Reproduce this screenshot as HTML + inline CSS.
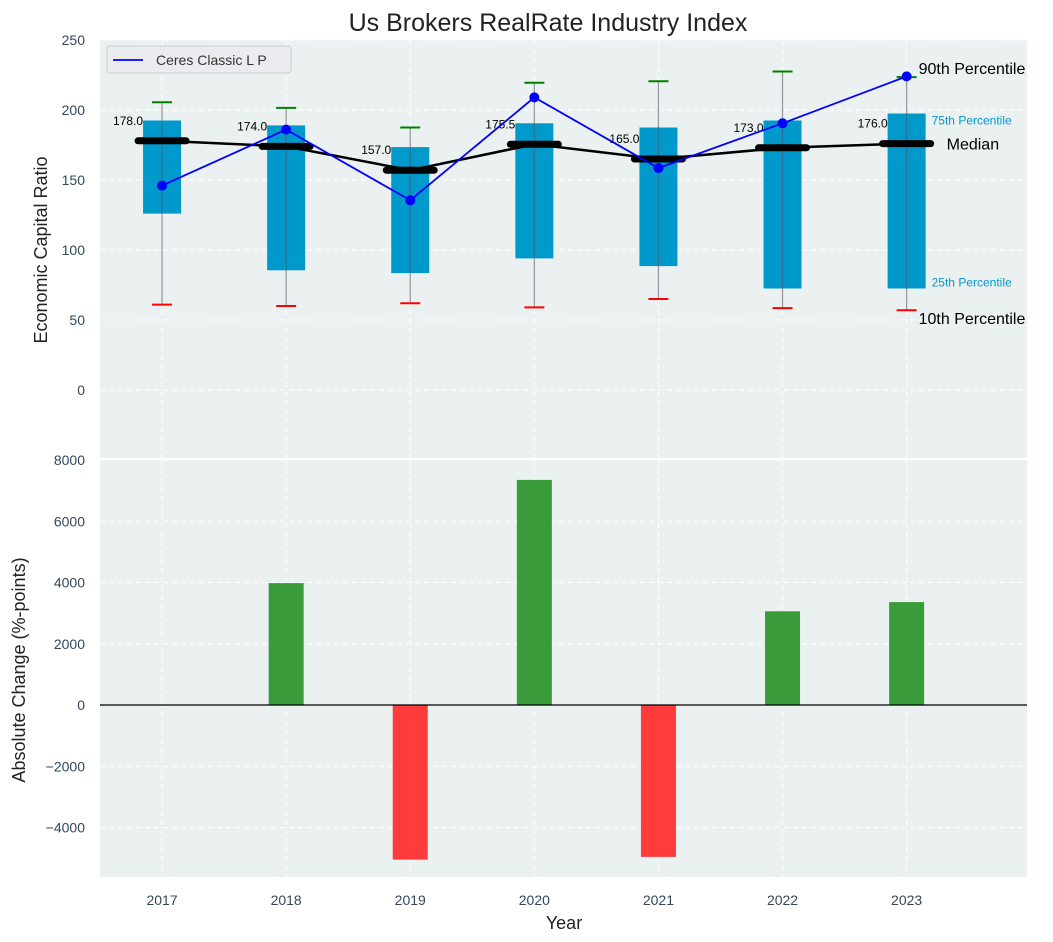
<!DOCTYPE html>
<html><head><meta charset="utf-8"><style>
body{margin:0;background:#fff;}
svg{display:block;font-family:"Liberation Sans","DejaVu Sans",sans-serif;}
</style></head><body>
<svg id="chart" width="1053" height="942" viewBox="0 0 1053 942" xmlns="http://www.w3.org/2000/svg"></svg>
<script>
const years=[2017,2018,2019,2020,2021,2022,2023];
const p10=[61,60,62,59,65,58.5,57];
const p25=[126,85.5,83.5,94,88.5,72.5,72.5];
const median=[178,174,157,175.5,165,173,176];
const p75=[192.5,189,173.5,190.5,187.5,192.5,197.5];
const p90=[205.5,201.5,187.5,219.5,220.5,227.5,223.5];
const company=[146,186,135.5,209,158.5,190.5,224];
const changes=[0,3980,-5050,7350,-4960,3060,3360];
const topTicks=[0,50,100,150,200,250];
const botTicks=[-4000,-2000,0,2000,4000,6000,8000];

const svg=document.getElementById('chart');
const NS='http://www.w3.org/2000/svg';
function el(tag,attrs,parent,text){const e=document.createElementNS(NS,tag);for(const k in attrs)e.setAttribute(k,attrs[k]);if(text!==undefined)e.textContent=text;(parent||svg).appendChild(e);return e;}
const X0=100,X1=1027;
const x=v=>X0+(v-2016.5)/(2023.97-2016.5)*(X1-X0);
const yT=v=>390-v*1.4;
const yB=v=>705-v*0.030625;

let b=el('rect',{x:X0,y:40,width:X1-X0,height:418,fill:'#ebf0f0'});

b=el('rect',{x:X0,y:460,width:X1-X0,height:417,fill:'#ebf0f0'});


years.forEach(yr=>{
  el('line',{x1:x(yr),x2:x(yr),y1:40,y2:458,stroke:'#fff','stroke-dasharray':'5,4','stroke-width':1});
  el('line',{x1:x(yr),x2:x(yr),y1:460,y2:877,stroke:'#fff','stroke-dasharray':'5,4','stroke-width':1});
});
topTicks.forEach(t=>{
  el('line',{x1:X0,x2:X1,y1:yT(t),y2:yT(t),stroke:'#fff','stroke-dasharray':'5,4'});
  const tx=el('text',{x:85,y:yT(t)+5,'text-anchor':'end','font-size':14,fill:'#33475b'},svg,String(t));
  
});
botTicks.forEach(t=>{
  el('line',{x1:X0,x2:X1,y1:yB(t),y2:yB(t),stroke:'#fff','stroke-dasharray':'5,4'});
  const tx=el('text',{x:85,y:yB(t)+5,'text-anchor':'end','font-size':14,fill:'#33475b'},svg,String(t).replace('-','\u2212'));
  
});
years.forEach(yr=>{
  const tx=el('text',{x:x(yr),y:905,'text-anchor':'middle','font-size':14,fill:'#33475b'},svg,String(yr));
  
});

const bw=38;
years.forEach((yr,i)=>{
  const cx=x(yr);
  const r=el('rect',{x:cx-bw/2,y:yT(p75[i]),width:bw,height:yT(p25[i])-yT(p75[i]),fill:'#0099cc'});
  
  el('line',{x1:cx,x2:cx,y1:yT(p10[i]),y2:yT(p90[i]),stroke:'#556',opacity:0.6,'stroke-width':1.2});
  el('line',{x1:cx-10,x2:cx+10,y1:yT(p90[i]),y2:yT(p90[i]),stroke:'green','stroke-width':2});
  el('line',{x1:cx-10,x2:cx+10,y1:yT(p10[i]),y2:yT(p10[i]),stroke:'red','stroke-width':2});
});
let pts=years.map((yr,i)=>x(yr)+','+yT(median[i])).join(' ');
let pl=el('polyline',{points:pts,fill:'none',stroke:'#000','stroke-width':2.5});

years.forEach((yr,i)=>{
  const cx=x(yr);
  const m=el('line',{x1:cx-24,x2:cx+24,y1:yT(median[i]),y2:yT(median[i]),stroke:'#000','stroke-width':7,'stroke-linecap':'round'});
  
  const t=el('text',{x:cx-19,y:yT(median[i])-16,'text-anchor':'end','font-size':12,fill:'#000'},svg,median[i].toFixed(1));
  
});
pts=years.map((yr,i)=>x(yr)+','+yT(company[i])).join(' ');
pl=el('polyline',{points:pts,fill:'none',stroke:'#0000ff','stroke-width':1.8});

years.forEach((yr,i)=>{
  const c=el('circle',{cx:x(yr),cy:yT(company[i]),r:5,fill:'#0000ff'});
  
});
const li=years.length-1, lx=x(years[li]);
[['90th Percentile',lx+12,yT(p90[li])-3,16,'#000'],['75th Percentile',lx+25,yT(p75[li])+11,12,'#0099cc'],['Median',lx+40,yT(median[li])+6,16,'#000'],['25th Percentile',lx+25,yT(p25[li])-2,12,'#0099cc'],['10th Percentile',lx+12,yT(p10[li])+14,16,'#000']].forEach(a=>{
  const t=el('text',{x:a[1],y:a[2],'font-size':a[3],fill:a[4]},svg,a[0]);
  
});
const lg=el('g',{});

el('rect',{x:107,y:46,width:184,height:27,rx:3,fill:'#ebecf0',stroke:'#ccc'},lg);
el('line',{x1:113,x2:143,y1:60,y2:60,stroke:'#0000ff','stroke-width':1.8},lg);
el('text',{x:156,y:65,'font-size':14,fill:'#333'},lg,'Ceres Classic L P');

const barW=35;
years.forEach((yr,i)=>{
  if(changes[i]===0)return;
  const y0=yB(0),y1=yB(changes[i]);
  const r=el('rect',{x:x(yr)-barW/2,y:Math.min(y0,y1),width:barW,height:Math.abs(y1-y0),fill:changes[i]>0?'#3a9b3a':'#ff3b3b'});
  
});
el('line',{x1:X0,x2:X1,y1:yB(0),y2:yB(0),stroke:'#000','stroke-width':1.2});

let t=el('text',{x:548,y:31,'text-anchor':'middle','font-size':25,fill:'#222'},svg,'Us Brokers RealRate Industry Index');

t=el('text',{x:564,y:929,'text-anchor':'middle','font-size':18,fill:'#222'},svg,'Year');

t=el('text',{x:0,y:0,'text-anchor':'middle','font-size':18,fill:'#222',transform:'translate(47,250) rotate(-90)'},svg,'Economic Capital Ratio');

t=el('text',{x:0,y:0,'text-anchor':'middle','font-size':18,fill:'#222',transform:'translate(25,670) rotate(-90)'},svg,'Absolute Change (%-points)');

</script>
</body></html>
